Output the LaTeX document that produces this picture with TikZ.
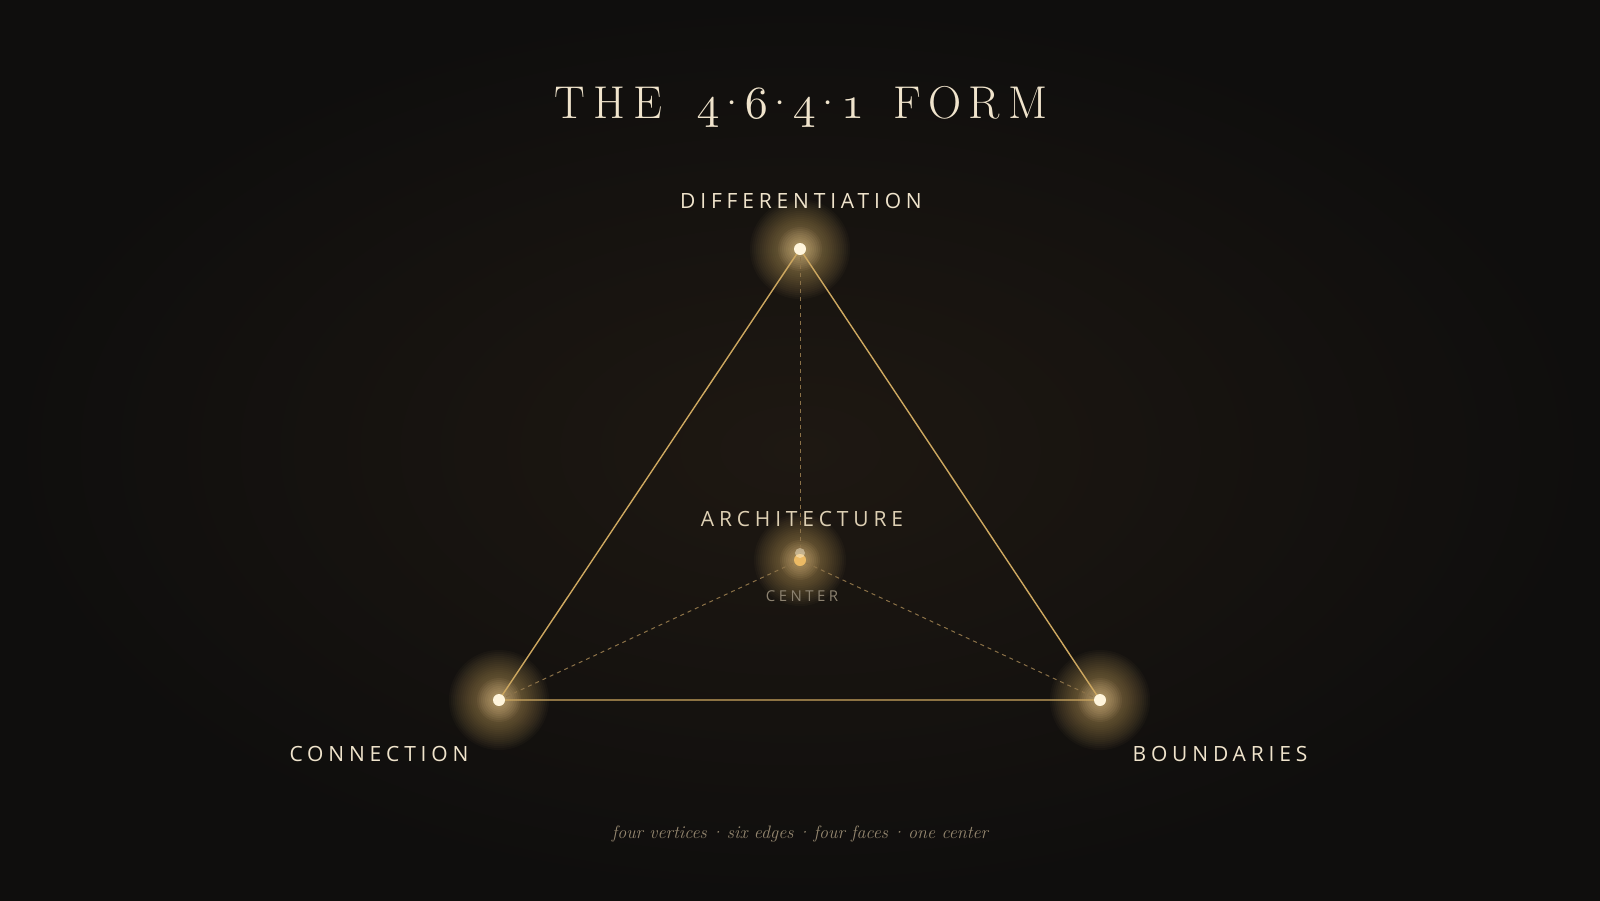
\documentclass[tikz,border=0pt]{standalone}
\usepackage{fontspec}
\setmainfont{Latin Modern Roman}
\newfontfamily\labelfont[LetterSpace=23]{Open Sans}
\newfontfamily\titlefont[LetterSpace=17]{Latin Modern Roman}
\newfontfamily\plainlm{Latin Modern Roman}
\DeclareFontFamily{OML}{mycmm}{\skewchar\font127 }
\DeclareFontShape{OML}{mycmm}{m}{it}{<->cmmi10}{}
\newcommand{\osdig}[1]{{\usefont{OML}{mycmm}{m}{it}#1}}
\newcommand{\tdot}{\hspace{-4pt}{\plainlm ·}\hspace{-4pt}}
\definecolor{bgout}{RGB}{15,14,13}
\definecolor{bgin}{RGB}{30,24,18}
\definecolor{gold}{RGB}{206,168,96}
\definecolor{glowc}{RGB}{236,196,118}
\definecolor{dashc}{RGB}{140,114,72}
\definecolor{cream}{RGB}{240,228,204}
\definecolor{archc}{RGB}{222,208,180}
\definecolor{centc}{RGB}{140,130,112}
\definecolor{subc}{RGB}{150,136,112}
\definecolor{dotc}{RGB}{255,245,220}
\definecolor{cdot}{RGB}{236,186,100}
\tikzset{
  edge/.style={draw=gold, line width=1.4pt},
  hidden/.style={draw=dashc, line width=1pt, dash pattern=on 4pt off 4pt},
  lbl/.style={font=\labelfont\fontsize{21}{24}\selectfont, text=cream, anchor=base, inner sep=0pt},
}
\begin{document}
\begin{tikzpicture}[x=1pt,y=-1pt]
\useasboundingbox (0,0) rectangle (1600,900);
\fill[bgout] (0,0) rectangle (1600,900);
\shade[inner color=bgin, outer color=bgout] (0,0) rectangle (1600,900);
% vertices
\coordinate (T) at (800,249);
\coordinate (L) at (499,700);
\coordinate (R) at (1100,700);
\coordinate (C) at (800,560);
% glows
\foreach \p in {T,L,R}{
  \foreach \r in {50,48,...,4}{
    \fill[glowc, opacity=0.03] (\p) circle (\r pt);
  }
  \foreach \r in {22,20,...,6}{
    \fill[glowc!70!white, opacity=0.05] (\p) circle (\r pt);
  }
}
\foreach \r in {46,44,...,4}{
  \fill[glowc, opacity=0.032] (C) circle (\r pt);
}
\foreach \r in {20,18,...,6}{
  \fill[glowc!80!white, opacity=0.05] (C) circle (\r pt);
}
% hidden edges
\draw[hidden] (T) -- (C);
\draw[hidden] (L) -- (C);
\draw[hidden] (R) -- (C);
% visible edges
\draw[edge] (T) -- (L) -- (R) -- cycle;
% dots
\fill[cdot] (C) circle (6pt);
\fill[dotc, opacity=0.45] (800,553) circle (5pt);
\fill[dotc] (T) circle (6pt);
\fill[dotc] (L) circle (6pt);
\fill[dotc] (R) circle (6pt);
% title
\node[anchor=base, inner sep=0pt, text=cream] (title) at (801,118)
  {\titlefont\fontsize{46}{50}\selectfont THE \hspace{13pt}\osdig{4}\tdot\osdig{6}\tdot\osdig{4}\tdot\osdig{1} \hspace{8pt}FORM};
% labels
\node[lbl] (diff) at (801,208) {DIFFERENTIATION};
\node[lbl, text=archc] (arch) at (802,526) {ARCHITECTURE};
\node[lbl, text=centc, font=\labelfont\fontsize{15}{18}\selectfont] (cent) at (802,601) {CENTER};
\node[lbl] (conn) at (379,761) {CONNECTION};
\node[lbl] (bound) at (1220,761) {BOUNDARIES};
\node[anchor=base, inner sep=0pt, text=subc, font=\itshape\fontsize{18}{22}\selectfont] (sub) at (800,838)
  {four vertices \hspace{-3pt}·\hspace{-3pt} six edges \hspace{-3pt}·\hspace{-3pt} four faces \hspace{-3pt}·\hspace{-3pt} one center};
\end{tikzpicture}
\end{document}
